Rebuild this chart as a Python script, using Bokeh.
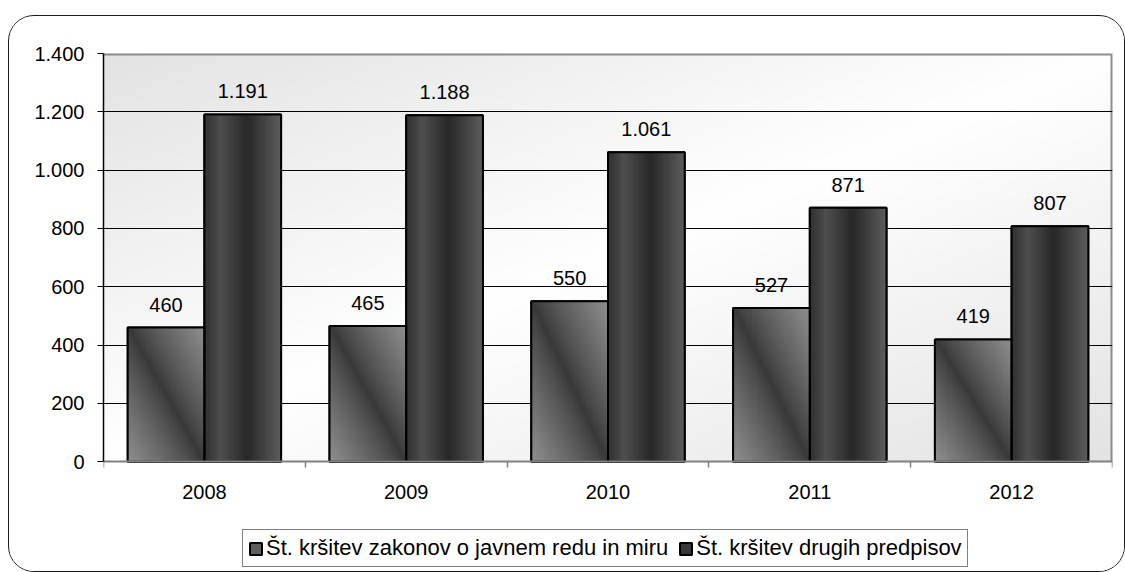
import numpy as np
from bokeh.plotting import figure
from bokeh.models import (ColumnDataSource, FixedTicker, Legend, LegendItem, Range1d)
from bokeh.core.properties import value
from bokeh.embed import file_html
from bokeh.resources import INLINE

# ---- data ----
years = ["2008", "2009", "2010", "2011", "2012"]
zakonov = [460, 465, 550, 527, 419]
drugih = [1191, 1188, 1061, 871, 807]
labels_zakonov = ["460", "465", "550", "527", "419"]
labels_drugih = ["1.191", "1.188", "1.061", "871", "807"]
series_names = ["Št. kršitev zakonov o javnem redu in miru",
                "Št. kršitev drugih predpisov"]
y_ticks = [0, 200, 400, 600, 800, 1000, 1200, 1400]
y_tick_labels = ["0", "200", "400", "600", "800", "1.000", "1.200", "1.400"]

FONT = "Liberation Sans"
BAR_W = 0.38
OFF = 0.19
Y_MAX = 1400
Y_PAD = -370   # extra room below 0 (for axis labels and legend inside frame)

n = len(years)
idx = np.arange(n)
x1 = idx + 0.5 - OFF
x2 = idx + 0.5 + OFF

src1 = ColumnDataSource(dict(x=x1, top=zakonov, lab=labels_zakonov))
src2 = ColumnDataSource(dict(x=x2, top=drugih, lab=labels_drugih))

p = figure(width=1117, height=557, x_range=Range1d(0, n), y_range=Range1d(Y_PAD, Y_MAX),
           output_backend="svg", toolbar_location=None,
           min_border_left=94, min_border_right=14, min_border_top=37, min_border_bottom=4)
p.styles = {"border": "1.5px solid #1a1a1a", "border-radius": "26px", "overflow": "hidden",
            "margin-left": "8px", "margin-top": "15px"}

p.background_fill_color = "white"
p.border_fill_color = "white"
p.outline_line_color = None

# background gradient of plot area (styling)
ny, nx = 80, 200
u = np.linspace(0, 1, nx)[None, :]
v = np.linspace(0, 1, ny)[:, None]
g = (255 - 28 * np.abs(u - v)).astype(np.uint8)
bg = np.zeros((ny, nx), dtype=np.uint32)
bgv = bg.view(dtype=np.uint8).reshape((ny, nx, 4))
bgv[..., 0] = g; bgv[..., 1] = g; bgv[..., 2] = g; bgv[..., 3] = 255
p.image_rgba(image=[bg], x=0, y=0, dw=n, dh=Y_MAX, level="image")

# plot-area border (top and right, gray)
p.line(x=[0, n, n], y=[Y_MAX, Y_MAX, 0], line_color="#8c8c8c", line_width=4,
       level="underlay")


def grad_img(kind):
    h, w = 64, 32
    uu = np.linspace(0, 1, w)[None, :] * np.ones((h, 1))
    vv = np.linspace(0, 1, h)[:, None] * np.ones((1, w))
    if kind == 1:
        d = (uu + vv) / 2.0
        t = np.abs(2 * d - 1) ** 0.85
        c = 56 + (142 - 56) * t
    else:
        c = np.interp(uu, [0, 0.2, 0.55, 1.0], [50, 78, 40, 92])
    c = c.astype(np.uint8)
    img = np.zeros((h, w), dtype=np.uint32)
    vw = img.view(dtype=np.uint8).reshape((h, w, 4))
    vw[..., 0] = c; vw[..., 1] = c; vw[..., 2] = c; vw[..., 3] = 255
    return img


# solid bars (legend reference)
r1 = p.vbar(x="x", top="top", width=BAR_W, source=src1, fill_color="#5e5e5e",
            line_color="black", line_width=2)
r2 = p.vbar(x="x", top="top", width=BAR_W, source=src2, fill_color="#383838",
            line_color="black", line_width=2)

# gradient overlays
img1, img2 = grad_img(1), grad_img(2)
p.image_rgba(image=[img1] * n, x=list(x1 - BAR_W / 2), y=[0] * n,
             dw=[BAR_W] * n, dh=zakonov)
p.image_rgba(image=[img2] * n, x=list(x2 - BAR_W / 2), y=[0] * n,
             dw=[BAR_W] * n, dh=drugih)

# outlines on top
p.vbar(x="x", top="top", width=BAR_W, source=src1, fill_color=None,
       line_color="black", line_width=2)
p.vbar(x="x", top="top", width=BAR_W, source=src2, fill_color=None,
       line_color="black", line_width=2)

# data labels
for s in (src1, src2):
    p.text(x="x", y="top", text="lab", source=s, text_align="center",
           text_baseline="middle", y_offset=-23, text_font=value(FONT),
           text_font_size="20px", text_color="black")

# grid
p.xgrid.grid_line_color = None
p.ygrid.ticker = FixedTicker(ticks=y_ticks[1:-1])
p.ygrid.grid_line_color = "black"
p.ygrid.grid_line_width = 1

# y axis
ya = p.yaxis[0]
ya.ticker = FixedTicker(ticks=y_ticks)
ya.bounds = (0, Y_MAX)
ya.major_label_overrides = {t: l for t, l in zip(y_ticks, y_tick_labels)}
ya.major_tick_out = 6
ya.major_tick_in = 0
ya.minor_tick_line_color = None
ya.axis_line_color = "black"
ya.axis_line_width = 1.5
ya.major_tick_line_color = "black"
ya.major_label_text_font = FONT
ya.major_label_text_font_size = "20px"
ya.major_label_text_color = "black"
ya.major_label_standoff = 13

# x axis (drawn at y = 0)
xa = p.xaxis[0]
xa.fixed_location = 0
centers = [i + 0.5 for i in range(n)]
xa.ticker = FixedTicker(ticks=centers, minor_ticks=list(range(n + 1)))
xa.major_label_overrides = {c: y for c, y in zip(centers, years)}
xa.major_tick_line_color = None
xa.major_tick_out = 6
xa.major_tick_in = 0
xa.minor_tick_out = 6
xa.minor_tick_in = 0
xa.minor_tick_line_color = "#808080"
xa.minor_tick_line_width = 1.5
xa.axis_line_color = "#808080"
xa.axis_line_width = 2
xa.major_label_text_font = FONT
xa.major_label_text_font_size = "20px"
xa.major_label_text_color = "black"
xa.major_label_standoff = 17

legend = Legend(items=[LegendItem(label=series_names[0], renderers=[r1]),
                       LegendItem(label=series_names[1], renderers=[r2])],
                orientation="horizontal", location=(139, 2))
legend.label_text_font = FONT
legend.label_text_font_size = "22px"
legend.label_text_color = "black"
legend.glyph_width = 15
legend.glyph_height = 15
legend.label_standoff = 3
legend.spacing = 10
legend.padding = 5
legend.margin = 0
legend.border_line_color = "black"
legend.border_line_width = 1
legend.background_fill_color = "white"
legend.background_fill_alpha = 1
p.add_layout(legend, "center")

open("out.html", "w").write(file_html(p, INLINE))
